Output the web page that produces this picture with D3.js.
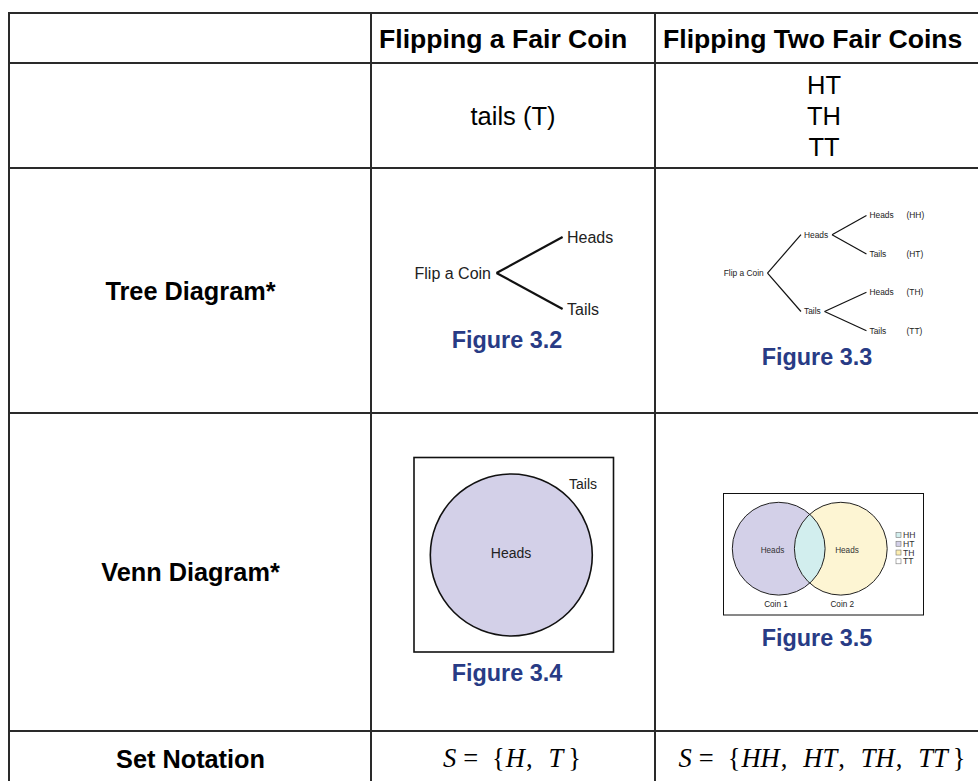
<!DOCTYPE html>
<html><head><meta charset="utf-8">
<script src="https://cdn.jsdelivr.net/npm/d3@7"></script>
<style>html,body{margin:0;padding:0;background:#fff;}svg{display:block;}</style>
</head><body>
<script>
// ---- data ----
const headers = ["", "Flipping a Fair Coin", "Flipping Two Fair Coins"];
const rowLabels = ["", "", "Tree Diagram*", "Venn Diagram*", "Set Notation"];
const oneCoinOutcomes = ["tails (T)"];
const twoCoinOutcomes = ["HT", "TH", "TT"];
const figureLabels = ["Figure 3.2", "Figure 3.3", "Figure 3.4", "Figure 3.5"];
const treeOne = {name: "Flip a Coin", children: [{name: "Heads"}, {name: "Tails"}]};
const treeTwo = {name: "Flip a Coin", children: [
  {name: "Heads", children: [{name: "Heads", tag: "(HH)"}, {name: "Tails", tag: "(HT)"}]},
  {name: "Tails", children: [{name: "Heads", tag: "(TH)"}, {name: "Tails", tag: "(TT)"}]}
]};
const vennOneLabels = ["Heads", "Tails"];
const vennTwoSets = ["Coin 1", "Coin 2"];
const legendItems = ["HH", "HT", "TH", "TT"];
const setOne = ["H", "T"];
const setTwo = ["HH", "HT", "TH", "TT"];

// ---- layout ----
const W = 978, H = 781;
const colEdges = [9, 371, 655, 991];
const rowEdges = [13, 63, 168, 413, 731, 786];
const fillCols = {lav: "#d3d0e8", yel: "#fdf5d3", cyan: "#d2eeee", white: "#ffffff"};
const legendFill = [fillCols.cyan, fillCols.lav, "#fdeeb0", fillCols.white];
const navy = "#283b85";
const sans = "'Liberation Sans', Arial, sans-serif";
const serif = "'Liberation Serif', 'Times New Roman', serif";

const svg = d3.select("body").append("svg").attr("width", W).attr("height", H)
  .style("font-family", sans);

const colX = d3.scaleOrdinal().domain([0,1,2,3]).range(colEdges);
const rowY = d3.scaleOrdinal().domain([0,1,2,3,4,5]).range(rowEdges);
const colMid = i => (colX(i) + colX(i+1)) / 2;
const rowMid = i => (rowY(i) + rowY(i+1)) / 2;

// grid lines
const grid = svg.append("g").attr("stroke", "#2a2a2a").attr("stroke-width", 2);
rowEdges.forEach((y, i) => {
  grid.append("line").attr("x1", colEdges[0]-1).attr("x2", colEdges[3]).attr("y1", y).attr("y2", y);
});
colEdges.forEach(x => {
  grid.append("line").attr("x1", x).attr("x2", x).attr("y1", rowEdges[0]-1).attr("y2", rowEdges[5]);
});

// headers
svg.append("g").selectAll("text").data(headers).join("text")
  .attr("x", (d, i) => colX(i) + 8).attr("y", 47.5)
  .attr("font-size", 26.6).attr("font-weight", "bold").attr("fill", "#000")
  .text(d => d);

// row labels
svg.append("g").selectAll("text").data(rowLabels).join("text")
  .attr("x", colMid(0) + 0.5).attr("y", (d, i) => rowMid(i) + 9)
  .attr("text-anchor", "middle").attr("font-size", 25.3).attr("font-weight", "bold")
  .text(d => d);

// outcomes row
svg.append("g").selectAll("text").data(oneCoinOutcomes).join("text")
  .attr("x", colMid(1)).attr("y", 125).attr("text-anchor", "middle").attr("font-size", 25.5)
  .text(d => d);
const outY = d3.scaleLinear().domain([0, twoCoinOutcomes.length - 1]).range([94, 156]);
svg.append("g").selectAll("text").data(twoCoinOutcomes).join("text")
  .attr("x", colMid(2) + 1).attr("y", (d, i) => outY(i)).attr("text-anchor", "middle").attr("font-size", 25.5)
  .text(d => d);

// ---- tree diagram helper ----
function drawTree(data, o) {
  const root = d3.hierarchy(data);
  const leaves = root.leaves();
  const ly = d3.scaleLinear().domain([0, leaves.length - 1]).range(o.leafY);
  leaves.forEach((l, i) => l.y = ly(i));
  root.eachAfter(n => { if (n.children) n.y = d3.mean(n.children, c => c.y); });
  const g = svg.append("g").attr("font-size", o.fs).attr("fill", "#222");
  root.vx = o.rootVertex;
  g.append("text").attr("x", o.rootVertex - o.gap).attr("y", root.y).attr("dy", "0.35em")
    .attr("text-anchor", "end").text(root.data.name);
  root.descendants().slice(1).forEach(n => {
    const tx = o.depthX[n.depth - 1];
    const t = g.append("text").attr("x", tx).attr("y", n.y).attr("dy", "0.35em").text(n.data.name);
    n.vx = tx + t.node().getComputedTextLength() + o.gap;
    if (n.data.tag) g.append("text").attr("x", tx + o.tagOffset).attr("y", n.y).attr("dy", "0.35em").text(n.data.tag);
  });
  const lines = svg.append("g").attr("stroke", "#111").attr("stroke-width", o.sw).attr("fill", "none");
  root.descendants().slice(1).forEach(n => {
    lines.append("line").attr("x1", n.parent.vx).attr("y1", n.parent.y)
      .attr("x2", o.depthX[n.depth - 1] - o.gap * 0.8).attr("y2", n.y);
  });
}

drawTree(treeOne, {leafY: [237, 309], rootVertex: 496.5, depthX: [567], gap: 5.5, fs: 16, sw: 2.2});
drawTree(treeTwo, {leafY: [215.5, 330.7], rootVertex: 767.5, depthX: [804, 869.5], gap: 3.8, fs: 8.4, sw: 1.2, tagOffset: 37});

// figure labels
const figPos = [[507, 348], [817, 364.5], [507, 681], [817, 646]];
svg.append("g").selectAll("text").data(figureLabels).join("text")
  .attr("x", (d, i) => figPos[i][0]).attr("y", (d, i) => figPos[i][1])
  .attr("text-anchor", "middle").attr("font-size", 23.4).attr("font-weight", "bold").attr("fill", navy)
  .text(d => d);

// ---- Venn 1 ----
const v1 = svg.append("g");
v1.append("rect").attr("x", 414).attr("y", 457.5).attr("width", 199.5).attr("height", 194.5)
  .attr("fill", "#fff").attr("stroke", "#111").attr("stroke-width", 1.6);
v1.append("circle").attr("cx", 511.3).attr("cy", 555).attr("r", 81)
  .attr("fill", fillCols.lav).attr("stroke", "#111").attr("stroke-width", 1.6);
v1.append("text").attr("x", 511).attr("y", 553).attr("dy", "0.35em").attr("text-anchor", "middle")
  .attr("font-size", 14).attr("fill", "#222").text(vennOneLabels[0]);
v1.append("text").attr("x", 583).attr("y", 484.5).attr("dy", "0.35em").attr("text-anchor", "middle")
  .attr("font-size", 14).attr("fill", "#222").text(vennOneLabels[1]);

// ---- Venn 2 ----
const v2 = svg.append("g");
v2.append("rect").attr("x", 723.5).attr("y", 493.5).attr("width", 200).attr("height", 121.5)
  .attr("fill", "#fff").attr("stroke", "#111").attr("stroke-width", 1);
const circ = [{cx: 778.7, cy: 548.7, r: 46.4, fill: fillCols.lav}, {cx: 840.8, cy: 548.7, r: 46.4, fill: fillCols.yel}];
const defs = svg.append("defs");
defs.append("clipPath").attr("id", "clipA").append("circle")
  .attr("cx", circ[0].cx).attr("cy", circ[0].cy).attr("r", circ[0].r);
v2.selectAll("circle.fill").data(circ).join("circle").attr("class", "fill")
  .attr("cx", d => d.cx).attr("cy", d => d.cy).attr("r", d => d.r).attr("fill", d => d.fill);
v2.append("circle").attr("cx", circ[1].cx).attr("cy", circ[1].cy).attr("r", circ[1].r)
  .attr("fill", fillCols.cyan).attr("clip-path", "url(#clipA)");
v2.selectAll("circle.edge").data(circ).join("circle").attr("class", "edge")
  .attr("cx", d => d.cx).attr("cy", d => d.cy).attr("r", d => d.r)
  .attr("fill", "none").attr("stroke", "#222").attr("stroke-width", 1);
v2.selectAll("text.h").data(circ).join("text").attr("class", "h")
  .attr("x", (d, i) => i === 0 ? 772.5 : 847).attr("y", 550).attr("dy", "0.35em")
  .attr("text-anchor", "middle").attr("font-size", 8.2).attr("fill", "#333").text("Heads");
v2.selectAll("text.c").data(vennTwoSets).join("text").attr("class", "c")
  .attr("x", (d, i) => i === 0 ? 776 : 842.3).attr("y", 604).attr("dy", "0.35em")
  .attr("text-anchor", "middle").attr("font-size", 8.2).attr("fill", "#222").text(d => d);
const legY = d3.scaleLinear().domain([0, 3]).range([535, 561.3]);
const leg = v2.append("g").selectAll("g").data(legendItems).join("g")
  .attr("transform", (d, i) => `translate(896,${legY(i)})`);
leg.append("rect").attr("x", 0).attr("y", -2.5).attr("width", 5).attr("height", 5)
  .attr("fill", (d, i) => legendFill[i]).attr("stroke", "#777").attr("stroke-width", 0.6);
leg.append("text").attr("x", 7).attr("y", 0).attr("dy", "0.35em").attr("font-size", 8.6).attr("fill", "#333").text(d => d);

// ---- set notation ----
function setText(items, cx) {
  const t = svg.append("text").attr("x", cx).attr("y", 767).attr("text-anchor", "middle")
    .attr("font-family", serif).attr("font-size", 26.5);
  t.append("tspan").attr("font-style", "italic").text("S");
  t.append("tspan").attr("dx", 7).text("=");
  t.append("tspan").attr("dx", 14).text("{");
  items.forEach((s, i) => {
    t.append("tspan").attr("font-style", "italic").attr("dx", i === 0 ? 1 : 16).text(s);
    if (i < items.length - 1) t.append("tspan").attr("dx", 1).text(",");
  });
  t.append("tspan").attr("dx", 5).text("}");
}
setText(setOne, 512);
setText(setTwo, 822);
</script>
</body></html>
